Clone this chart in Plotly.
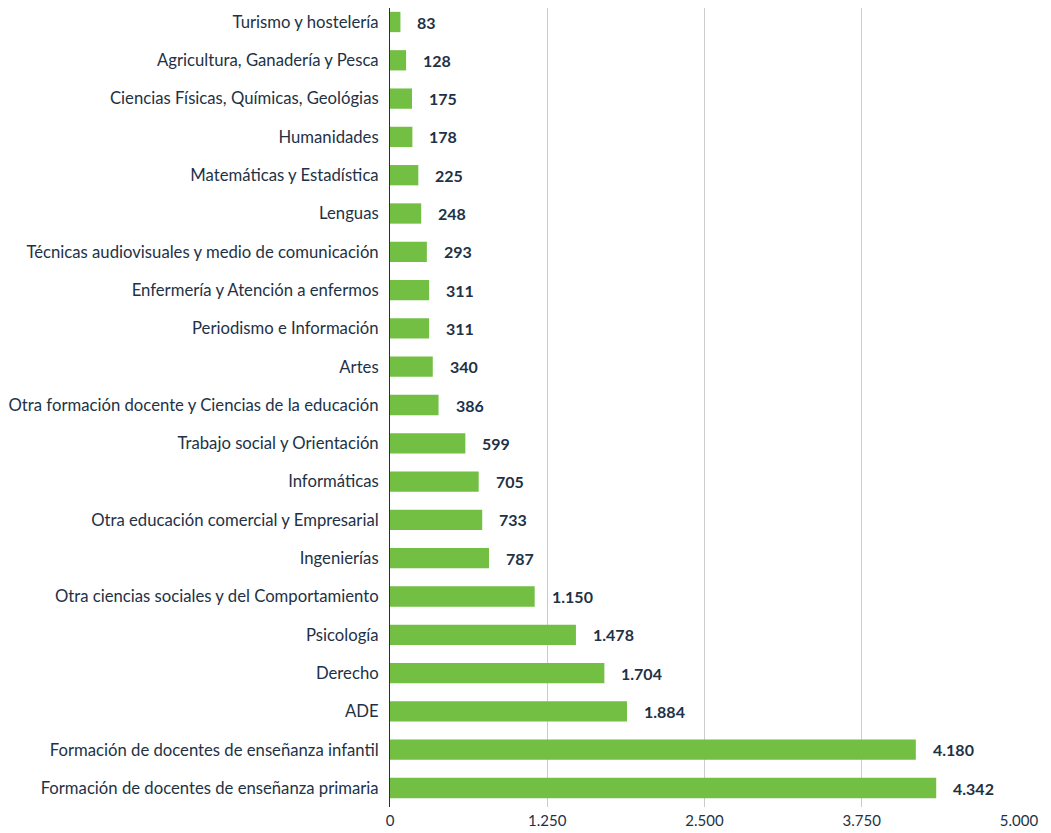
import plotly.graph_objects as go

categories = [
    "Turismo y hostelería",
    "Agricultura, Ganadería y Pesca",
    "Ciencias Físicas, Químicas, Geológias",
    "Humanidades",
    "Matemáticas y Estadística",
    "Lenguas",
    "Técnicas audiovisuales y medio de comunicación",
    "Enfermería y Atención a enfermos",
    "Periodismo e Información",
    "Artes",
    "Otra formación docente y Ciencias de la educación",
    "Trabajo social y Orientación",
    "Informáticas",
    "Otra educación comercial y Empresarial",
    "Ingenierías",
    "Otra ciencias sociales y del Comportamiento",
    "Psicología",
    "Derecho",
    "ADE",
    "Formación de docentes de enseñanza infantil",
    "Formación de docentes de enseñanza primaria",
]
values = [83, 128, 175, 178, 225, 248, 293, 311, 311, 340, 386, 599, 705, 733, 787,
          1150, 1478, 1704, 1884, 4180, 4342]
tick_vals = [0, 1250, 2500, 3750, 5000]
tick_text = ["0", "1.250", "2.500", "3.750", "5.000"]

def fmt(v):
    return f"{v:,}".replace(",", ".")

navy = "#1E3246"
green = "#72BF44"

fig = go.Figure()
fig.add_trace(go.Bar(
    x=values, y=categories, orientation="h",
    marker=dict(color=green, line=dict(width=0)),
    hoverinfo="x+y",
))

for c, v in zip(categories, values):
    fig.add_annotation(x=v, y=c, text="<b>" + fmt(v) + "</b>", showarrow=False,
                       xanchor="left", xshift=15,
                       font=dict(family="Lato", size=16, color=navy))

n = len(categories)
fig.update_layout(
    width=1043, height=825,
    margin=dict(l=382, r=32, t=0, b=26),
    paper_bgcolor="white", plot_bgcolor="white",
    bargap=0.47,
    showlegend=False,
    font=dict(family="Lato", color=navy),
    xaxis=dict(range=[0, 5000], tickvals=tick_vals, ticktext=tick_text,
               showgrid=True, gridcolor="#CCCCCC", gridwidth=1,
               zeroline=False, showline=False, automargin=False,
               ticklabelstandoff=3,
               tickfont=dict(size=15, color=navy), ticks=""),
    yaxis=dict(categoryorder="array", categoryarray=categories,
               range=[n - 1 + 0.496, -0.3655], automargin=False,
               showline=True, linecolor=navy, linewidth=1,
               showgrid=False, ticks="", ticklabelstandoff=7,
               tickfont=dict(size=16.7, color=navy)),
)

fig.write_html("out.html")
